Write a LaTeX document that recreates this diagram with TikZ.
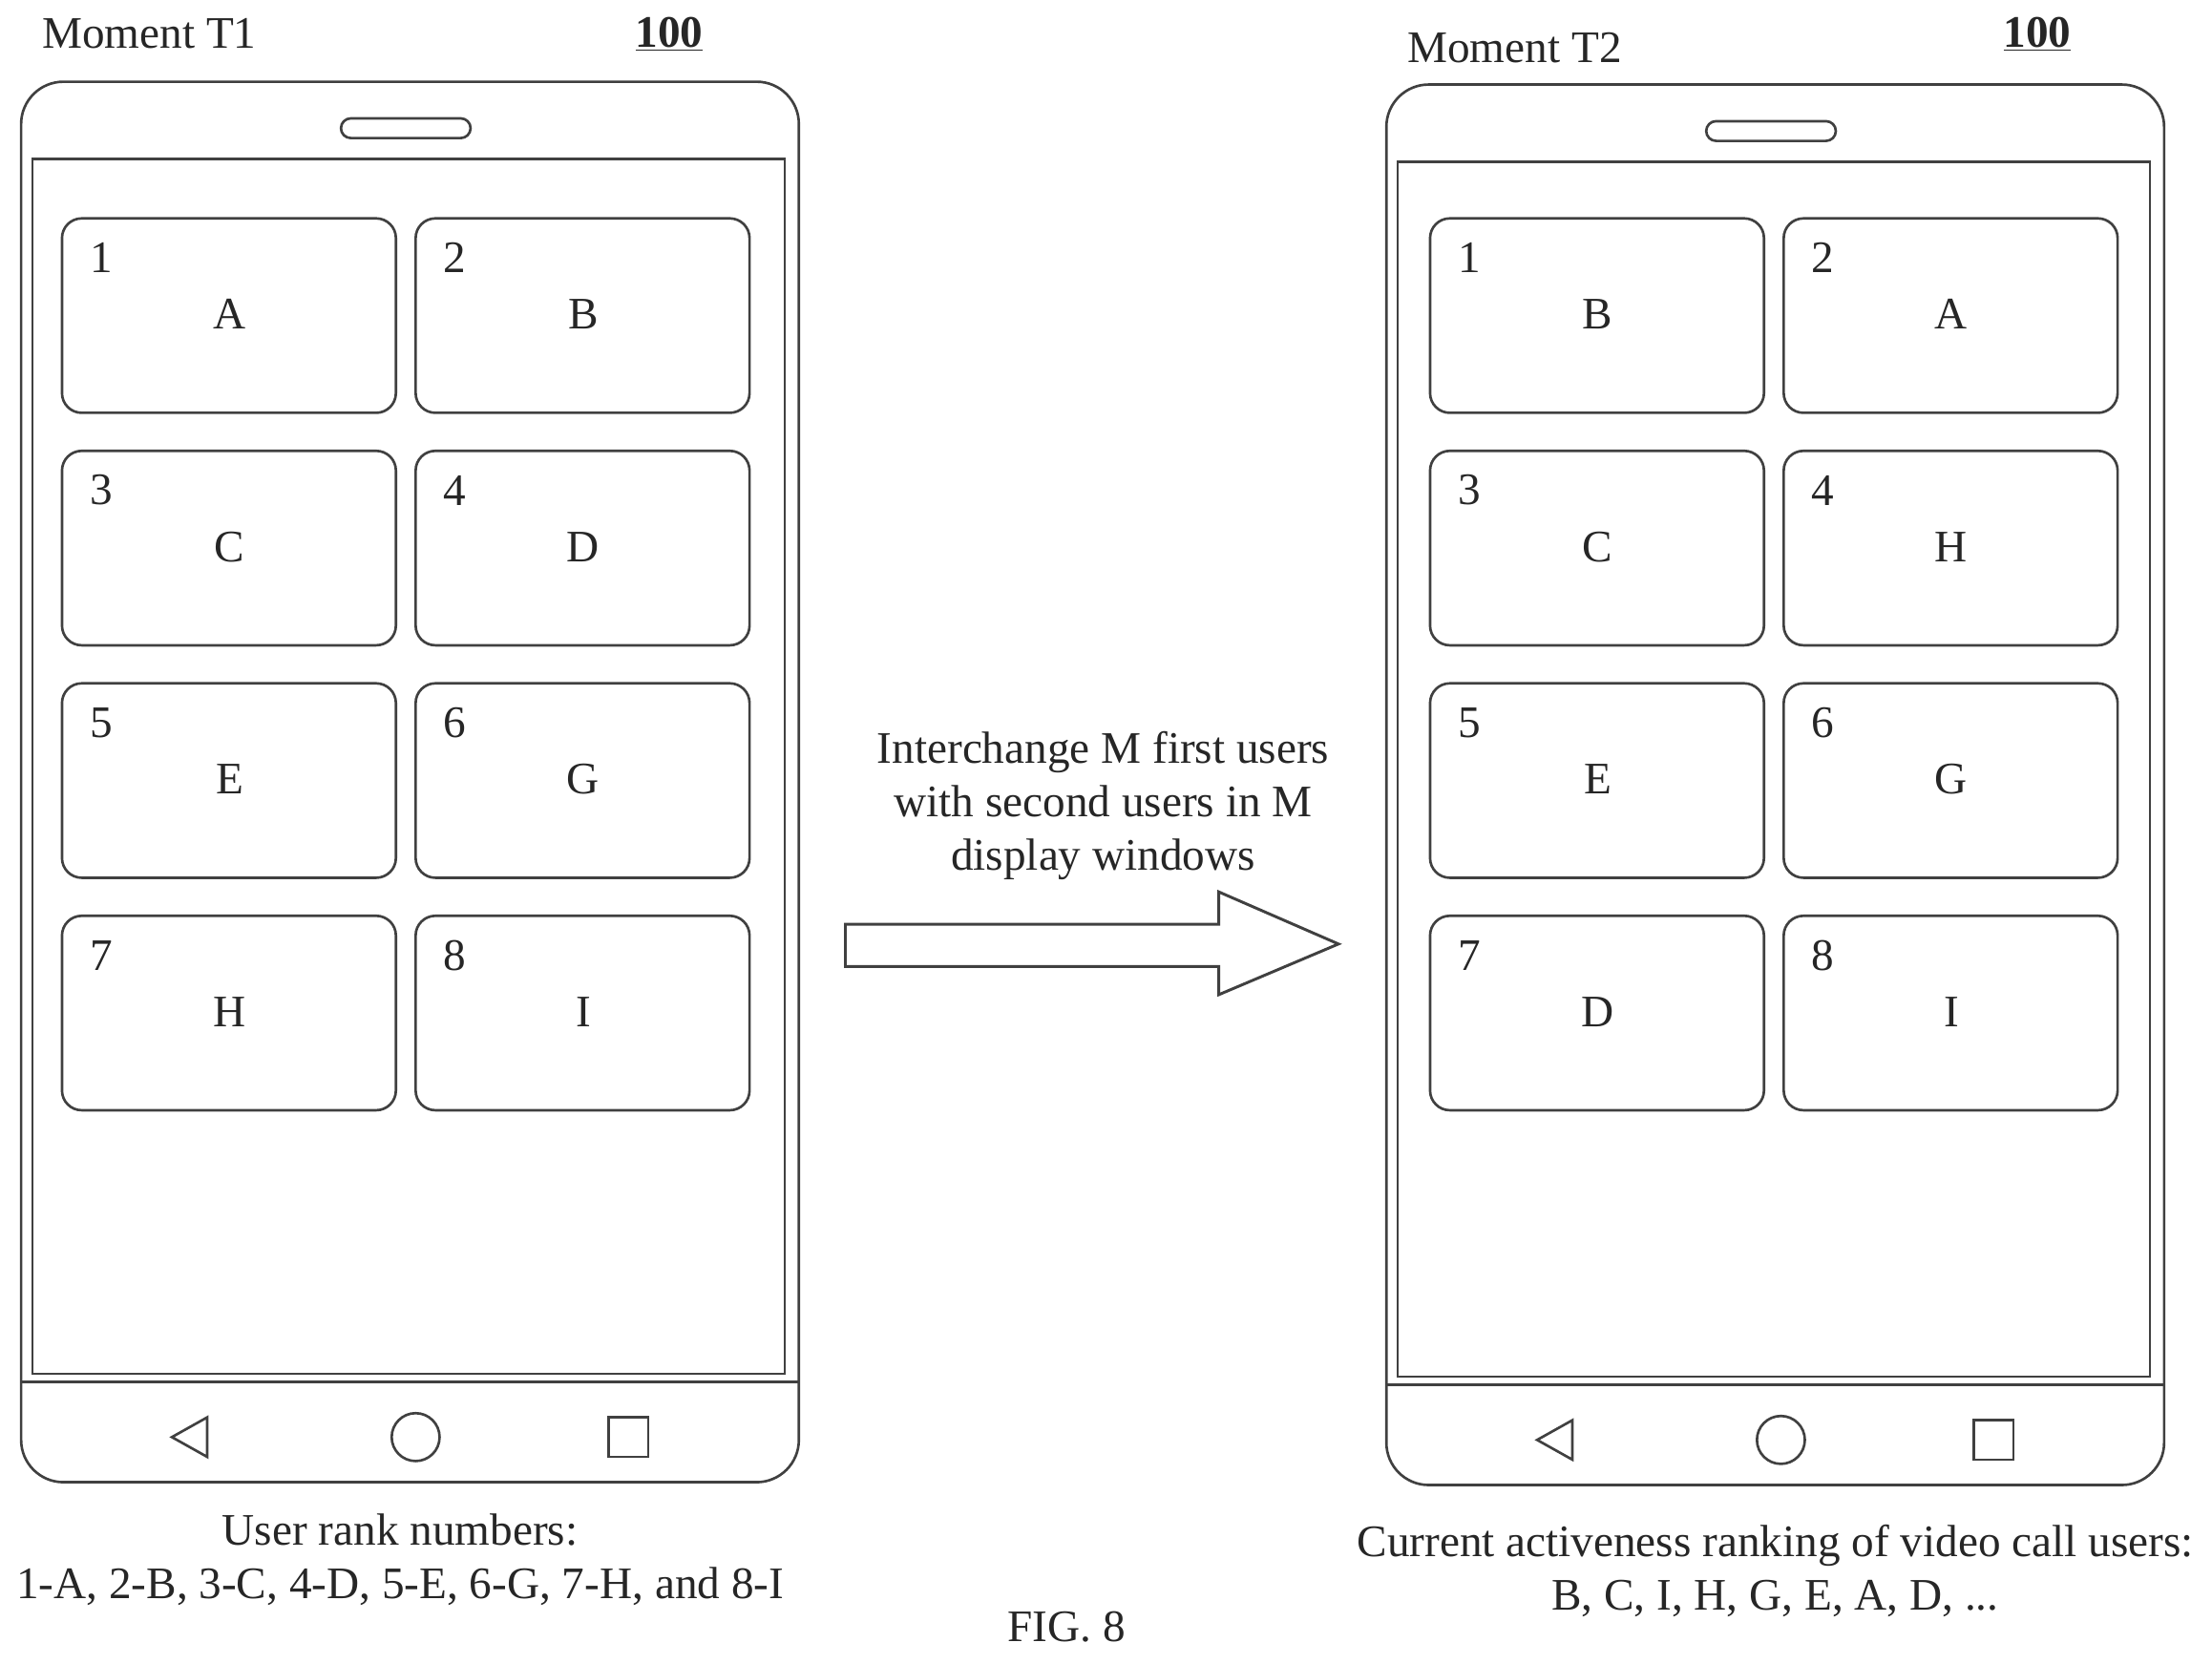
\documentclass[tikz,border=0pt]{standalone}
\usepackage{fontspec}
\setmainfont{Liberation Serif}
\begin{document}
\begin{tikzpicture}[x=1pt,y=-1pt,
  ln/.style={draw=black!75,line width=1.8pt},
  win/.style={ln,rounded corners=14pt},
  txt/.style={font=\fontsize{32}{38}\selectfont,text=black!85}]
\useasboundingbox (0,0) rectangle (1570,1181);
\newcommand{\myphone}[2]{%
 \begin{scope}[xshift=#1,yshift=-#2]
 \draw[ln,rounded corners=30pt] (15,58) rectangle (567,1052);
 \draw[ln,rounded corners=7pt] (242,84) rectangle (334,98);
 \draw[ln] (23,113) rectangle (557,975);
 \draw[ln] (15,981) -- (567,981);
 \draw[ln] (122,1020) -- (147,1006) -- (147,1034) -- cycle;
 \draw[ln] (295,1020) circle (17);
 \draw[ln] (432,1006) rectangle (460,1034);
 \end{scope}}
\myphone{0}{0}
\myphone{969}{2}
\newcommand{\mywin}[5]{%
 \draw[win] (#1,#2) rectangle ++(237,138);
 \node[txt] at (#1+28,#2+28) {#3};
 \node[txt] at (#1+119,#2+68) {#4};}
\foreach \ox/\a/\b/\c/\d/\e/\f/\g/\h in {0/A/B/C/D/E/G/H/I, 971/B/A/C/H/E/G/D/I}{
 \mywin{44+\ox}{155}{1}{\a}{}
 \mywin{295+\ox}{155}{2}{\b}{}
 \mywin{44+\ox}{320}{3}{\c}{}
 \mywin{295+\ox}{320}{4}{\d}{}
 \mywin{44+\ox}{485}{5}{\e}{}
 \mywin{295+\ox}{485}{6}{\f}{}
 \mywin{44+\ox}{650}{7}{\g}{}
 \mywin{295+\ox}{650}{8}{\h}{}
}
\node[txt] (m1) at (106,24) {Moment T1};
\node[txt] (n1) at (475,24) {\textbf{\underline{100}}};
\node[txt] (m2) at (1075,34) {Moment T2};
\node[txt] (n2) at (1446,24) {\textbf{\underline{100}}};
\draw[ln,line width=2pt] (600,656) -- (865,656) -- (865,633) -- (950,670) -- (865,706) -- (865,686) -- (600,686) -- cycle;
\node[txt,align=center] (lbl) at (783,572) {Interchange M first users\\with second users in M\\display windows};
\node[txt,align=center] (c1) at (284,1107) {User rank numbers:\\1-A, 2-B, 3-C, 4-D, 5-E, 6-G, 7-H, and 8-I};
\node[txt,align=center] (c2) at (1260,1115) {Current activeness ranking of video call users:\\B, C, I, H, G, E, A, D, ...};
\node[txt] (fig) at (757,1155) {FIG. 8};
\end{tikzpicture}
\end{document}
